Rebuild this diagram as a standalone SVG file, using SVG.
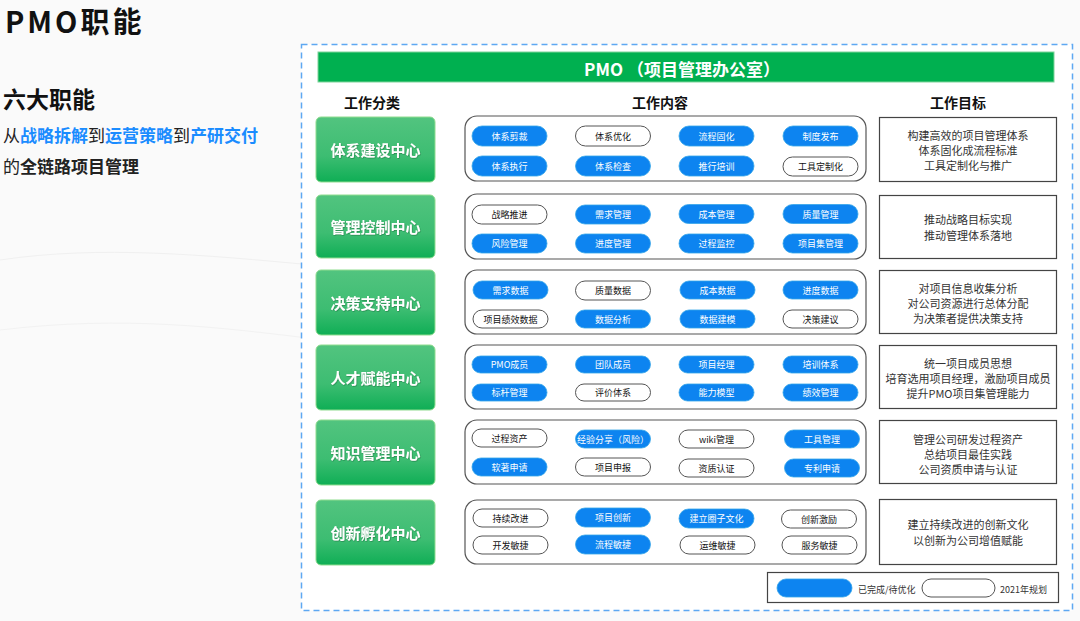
<svg xmlns="http://www.w3.org/2000/svg" width="1080" height="621" viewBox="0 0 1080 621">
<defs>
<linearGradient id="gg" x1="0" y1="0" x2="0" y2="1">
<stop offset="0" stop-color="#52c47f"/>
<stop offset="0.6" stop-color="#3dbd72"/>
<stop offset="1" stop-color="#0fae55"/>
</linearGradient>
<filter id="ts" x="-10%" y="-10%" width="120%" height="130%">
<feDropShadow dx="0.6" dy="0.8" stdDeviation="0.5" flood-color="#1a6b3a" flood-opacity="0.6"/>
</filter>
<style>
text{font-family:"Noto Sans CJK SC","Liberation Sans",sans-serif;}
.cat rect{fill:url(#gg);stroke:#8fdc8f;stroke-width:1;}
.cat text{fill:#fff;font-size:15px;font-weight:bold;text-anchor:middle;dominant-baseline:central;filter:url(#ts);}
.box{fill:#fff;stroke:#555;stroke-width:1.2;}
.b rect{fill:#0d84f0;stroke:#36a6e8;stroke-width:0.8;}
.b text{fill:#fff;}
.w rect{fill:#fff;stroke:#555;stroke-width:1;}
.w text{fill:#111;}
.p text{font-size:9px;text-anchor:middle;dominant-baseline:central;}
.goal rect{fill:#fff;stroke:#444;stroke-width:1.2;}
.goal text{fill:#333;font-size:11px;text-anchor:middle;dominant-baseline:central;}
.hd{font-size:14px;font-weight:bold;fill:#111;text-anchor:middle;dominant-baseline:central;}
.blue{fill:#1a8cff;font-weight:bold;}
.bold{font-weight:bold;}
</style>
</defs>
<rect x="0" y="0" width="1080" height="621" fill="#fafafa"/>
<path d="M0 260 C200 230 420 300 640 270" fill="none" stroke="#f0f0f0" stroke-width="1"/>
<path d="M0 330 C250 300 380 380 620 340" fill="none" stroke="#f2f2f2" stroke-width="1"/>

<g id="title">
<text x="5" y="33" font-size="29" font-weight="bold" fill="#111" letter-spacing="3">PMO职能</text>
<text x="3" y="108" font-size="23" font-weight="bold" fill="#111">六大职能</text>
<text x="3" y="142" font-size="17" fill="#222">从<tspan class="blue">战略拆解</tspan>到<tspan class="blue">运营策略</tspan>到<tspan class="blue">产研交付</tspan></text>
<text x="3" y="173" font-size="17" fill="#222">的<tspan class="bold">全链路项目管理</tspan></text>
</g>

<rect x="301.5" y="44.5" width="771" height="566" fill="#fff" stroke="#5ea8f2" stroke-width="1.5" stroke-dasharray="6,4"/>

<g id="header">
<rect x="318" y="52" width="736" height="30" fill="#00b050" stroke="#7ed49a" stroke-width="1"/>
<text x="682" y="68" font-size="17" font-weight="bold" fill="#fff" text-anchor="middle" dominant-baseline="central">PMO （项目管理办公室）</text>
</g>
<text class="hd" x="372" y="102">工作分类</text>
<text class="hd" x="660" y="102">工作内容</text>
<text class="hd" x="958" y="102">工作目标</text>

<!-- Row 1 -->
<g id="cat1" class="cat"><rect x="316" y="117" width="119" height="65" rx="5"/><text x="375.5" y="149.5">体系建设中心</text></g>
<g id="content1">
<rect class="box" x="465" y="116" width="401" height="65" rx="12"/>
<g class="p b"><rect x="472" y="126" width="75" height="20" rx="10"/><text x="509.5" y="136">体系剪裁</text></g>
<g class="p w"><rect x="575.5" y="126" width="75" height="20" rx="10"/><text x="613" y="136">体系优化</text></g>
<g class="p b"><rect x="679" y="126" width="75" height="20" rx="10"/><text x="716.5" y="136">流程固化</text></g>
<g class="p b"><rect x="783" y="126" width="75" height="20" rx="10"/><text x="820.5" y="136">制度发布</text></g>
<g class="p b"><rect x="472" y="156" width="75" height="20" rx="10"/><text x="509.5" y="166">体系执行</text></g>
<g class="p b"><rect x="575.5" y="156" width="75" height="20" rx="10"/><text x="613" y="166">体系检查</text></g>
<g class="p b"><rect x="679" y="156" width="75" height="20" rx="10"/><text x="716.5" y="166">推行培训</text></g>
<g class="p w"><rect x="783" y="157" width="75" height="19" rx="9.5"/><text x="820.5" y="166.5">工具定制化</text></g>
</g>
<g id="goal1" class="goal"><rect x="879.5" y="117.5" width="177" height="64"/><text x="968" y="135">构建高效的项目管理体系</text><text x="968" y="150">体系固化成流程标准</text><text x="968" y="165">工具定制化与推广</text></g>

<!-- Row 2 -->
<g id="cat2" class="cat"><rect x="316" y="195" width="119" height="63" rx="5"/><text x="375.5" y="226.5">管理控制中心</text></g>
<g id="content2">
<rect class="box" x="465" y="194" width="401" height="65" rx="12"/>
<g class="p w"><rect x="472" y="205" width="75" height="19" rx="9.5"/><text x="509.5" y="214.5">战略推进</text></g>
<g class="p b"><rect x="575.5" y="205" width="75" height="19" rx="9.5"/><text x="613" y="214.5">需求管理</text></g>
<g class="p b"><rect x="679" y="204.5" width="75" height="19" rx="9.5"/><text x="716.5" y="214">成本管理</text></g>
<g class="p b"><rect x="783" y="204.5" width="75" height="19" rx="9.5"/><text x="820.5" y="214">质量管理</text></g>
<g class="p b"><rect x="472" y="234" width="75" height="19" rx="9.5"/><text x="509.5" y="243.5">风险管理</text></g>
<g class="p b"><rect x="575.5" y="234" width="75" height="19" rx="9.5"/><text x="613" y="243.5">进度管理</text></g>
<g class="p b"><rect x="679" y="234" width="75" height="19" rx="9.5"/><text x="716.5" y="243.5">过程监控</text></g>
<g class="p b"><rect x="783" y="234" width="75" height="19" rx="9.5"/><text x="820.5" y="243.5">项目集管理</text></g>
</g>
<g id="goal2" class="goal"><rect x="879.5" y="195.5" width="177" height="63"/><text x="968" y="219">推动战略目标实现</text><text x="968" y="235">推动管理体系落地</text></g>

<!-- Row 3 -->
<g id="cat3" class="cat"><rect x="316" y="270" width="119" height="65" rx="5"/><text x="375.5" y="302">决策支持中心</text></g>
<g id="content3">
<rect class="box" x="465" y="270" width="401" height="64" rx="12"/>
<g class="p b"><rect x="473" y="281" width="75" height="18" rx="9"/><text x="510.5" y="290">需求数据</text></g>
<g class="p w"><rect x="575.5" y="281" width="75" height="19" rx="9.5"/><text x="613" y="290.5">质量数据</text></g>
<g class="p b"><rect x="680" y="281" width="75" height="18" rx="9"/><text x="717.5" y="290">成本数据</text></g>
<g class="p b"><rect x="783" y="281" width="75" height="18" rx="9"/><text x="820.5" y="290">进度数据</text></g>
<g class="p w"><rect x="473" y="310" width="75" height="18" rx="9"/><text x="510.5" y="319">项目绩效数据</text></g>
<g class="p b"><rect x="575.5" y="310" width="75" height="18" rx="9"/><text x="613" y="319">数据分析</text></g>
<g class="p b"><rect x="680" y="310" width="75" height="18" rx="9"/><text x="717.5" y="319">数据建模</text></g>
<g class="p w"><rect x="783" y="310" width="75" height="18" rx="9"/><text x="820.5" y="319">决策建议</text></g>
</g>
<g id="goal3" class="goal"><rect x="879.5" y="270.5" width="177" height="63"/><text x="968" y="288">对项目信息收集分析</text><text x="968" y="303">对公司资源进行总体分配</text><text x="968" y="318">为决策者提供决策支持</text></g>

<!-- Row 4 -->
<g id="cat4" class="cat"><rect x="316" y="345" width="119" height="65" rx="5"/><text x="375.5" y="377.5">人才赋能中心</text></g>
<g id="content4">
<rect class="box" x="465" y="345" width="401" height="64" rx="12"/>
<g class="p b"><rect x="472" y="356" width="75" height="17" rx="8.5"/><text x="509.5" y="364.5">PMO成员</text></g>
<g class="p b"><rect x="575.5" y="356" width="75" height="17" rx="8.5"/><text x="613" y="364.5">团队成员</text></g>
<g class="p b"><rect x="679" y="356" width="75" height="17" rx="8.5"/><text x="716.5" y="364.5">项目经理</text></g>
<g class="p b"><rect x="783" y="356" width="75" height="17" rx="8.5"/><text x="820.5" y="364.5">培训体系</text></g>
<g class="p b"><rect x="472" y="384" width="75" height="17" rx="8.5"/><text x="509.5" y="392.5">标杆管理</text></g>
<g class="p w"><rect x="575.5" y="384" width="75" height="17" rx="8.5"/><text x="613" y="392.5">评价体系</text></g>
<g class="p b"><rect x="679" y="384" width="75" height="17" rx="8.5"/><text x="716.5" y="392.5">能力模型</text></g>
<g class="p b"><rect x="783" y="384" width="75" height="17" rx="8.5"/><text x="820.5" y="392.5">绩效管理</text></g>
</g>
<g id="goal4" class="goal"><rect x="879.5" y="345.5" width="177" height="63"/><text x="968" y="363">统一项目成员思想</text><text x="968" y="378">培育选用项目经理，激励项目成员</text><text x="968" y="393">提升PMO项目集管理能力</text></g>

<!-- Row 5 -->
<g id="cat5" class="cat"><rect x="316" y="420" width="119" height="65" rx="5"/><text x="375.5" y="452.5">知识管理中心</text></g>
<g id="content5">
<rect class="box" x="465" y="420" width="401" height="64" rx="12"/>
<g class="p w"><rect x="472" y="429" width="75" height="18" rx="9"/><text x="509.5" y="438">过程资产</text></g>
<g class="p b"><rect x="575.5" y="430" width="75" height="18" rx="9"/><text x="613" y="439">经验分享（风险）</text></g>
<g class="p w"><rect x="679" y="430" width="75" height="18" rx="9"/><text x="716.5" y="439">wiki管理</text></g>
<g class="p b"><rect x="784.5" y="430" width="75" height="18" rx="9"/><text x="822" y="439">工具管理</text></g>
<g class="p b"><rect x="472" y="458" width="75" height="18" rx="9"/><text x="509.5" y="467">软著申请</text></g>
<g class="p w"><rect x="575.5" y="458" width="75" height="18" rx="9"/><text x="613" y="467">项目申报</text></g>
<g class="p w"><rect x="679" y="459" width="75" height="18" rx="9"/><text x="716.5" y="468">资质认证</text></g>
<g class="p b"><rect x="784.5" y="459" width="75" height="18" rx="9"/><text x="822" y="468">专利申请</text></g>
</g>
<g id="goal5" class="goal"><rect x="879.5" y="420.5" width="177" height="63"/><text x="968" y="439">管理公司研发过程资产</text><text x="968" y="454">总结项目最佳实践</text><text x="968" y="469">公司资质申请与认证</text></g>

<!-- Row 6 -->
<g id="cat6" class="cat"><rect x="316" y="500" width="119" height="65" rx="5"/><text x="375.5" y="532">创新孵化中心</text></g>
<g id="content6">
<rect class="box" x="465" y="500" width="401" height="64" rx="12"/>
<g class="p w"><rect x="473" y="509" width="75" height="18" rx="9"/><text x="510.5" y="518">持续改进</text></g>
<g class="p b"><rect x="575.5" y="508" width="75" height="19" rx="9.5"/><text x="613" y="517.5">项目创新</text></g>
<g class="p b"><rect x="679" y="509" width="75" height="19" rx="9.5"/><text x="716.5" y="518.5">建立圈子文化</text></g>
<g class="p w"><rect x="781.5" y="510" width="75" height="18" rx="9"/><text x="819" y="519">创新激励</text></g>
<g class="p w"><rect x="473" y="536" width="75" height="18" rx="9"/><text x="510.5" y="545">开发敏捷</text></g>
<g class="p b"><rect x="575.5" y="535" width="75" height="19" rx="9.5"/><text x="613" y="544.5">流程敏捷</text></g>
<g class="p w"><rect x="680" y="536" width="75" height="18" rx="9"/><text x="717.5" y="545">运维敏捷</text></g>
<g class="p w"><rect x="782" y="536" width="75" height="18" rx="9"/><text x="819.5" y="545">服务敏捷</text></g>
</g>
<g id="goal6" class="goal"><rect x="879.5" y="499.5" width="177" height="65"/><text x="968" y="524">建立持续改进的创新文化</text><text x="968" y="540">以创新为公司增值赋能</text></g>

<!-- Legend -->
<g id="legend">
<rect x="767.5" y="572.5" width="291" height="30" fill="#fff" stroke="#444" stroke-width="1.2"/>
<g class="p b"><rect x="777" y="579" width="75" height="18" rx="9"/></g>
<text x="858" y="589" font-size="9" fill="#333" dominant-baseline="central">已完成/待优化</text>
<g class="p w"><rect x="922" y="579" width="73" height="18" rx="9"/></g>
<text x="1000" y="589" font-size="9" fill="#333" dominant-baseline="central">2021年规划</text>
</g>
</svg>
